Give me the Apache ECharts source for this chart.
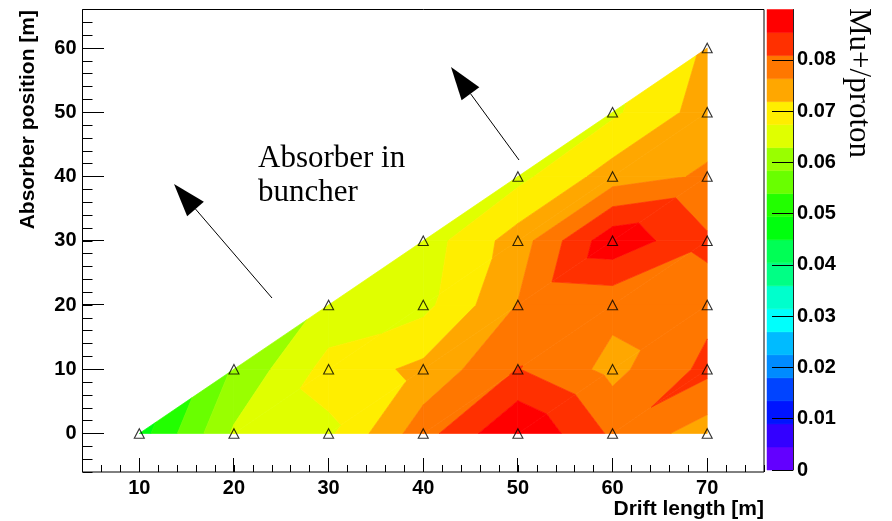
<!DOCTYPE html>
<html><head><meta charset="utf-8">
<script src="https://cdn.jsdelivr.net/npm/echarts@6/dist/echarts.min.js"></script>
<style>html,body{margin:0;padding:0;background:#fff}#c{width:892px;height:521px}</style>
</head><body><div id="c"></div>
<script>
// ---- data ----
const driftLength = [10, 20, 20, 30, 30, 30, 40, 40, 40, 40, 50, 50, 50, 50, 50, 60, 60, 60, 60, 60, 60, 70, 70, 70, 70, 70, 70, 70];
const absorberPos = [0, 0, 10, 0, 10, 20, 0, 10, 20, 30, 0, 10, 20, 30, 40, 0, 10, 20, 30, 40, 50, 0, 10, 20, 30, 40, 50, 60];
const muPerProton = [0.0474,
  0.0635, 0.059,
  0.0665, 0.069, 0.064,
  0.079, 0.073, 0.066, 0.065,
  0.0898, 0.081, 0.0765, 0.074, 0.066,
  0.080, 0.075, 0.0775, 0.0885, 0.074, 0.0665,
  0.074, 0.082, 0.0795, 0.0815, 0.077, 0.074, 0.0725];
const xMajorTicks = [10, 20, 30, 40, 50, 60, 70];
const yMajorTicks = [0, 10, 20, 30, 40, 50, 60];
const zTickLabels = [0, 0.01, 0.02, 0.03, 0.04, 0.05, 0.06, 0.07, 0.08];
const nLevels = 20;

// ---- style ----
const palette = ['#6300ff','#3300ff','#0014ff','#0044ff','#008bff','#00bbff','#00fffc','#00ffcc','#00ff85','#00ff55',
                 '#00ff0e','#22ff00','#69ff00','#99ff00','#e0ff00','#ffee00','#ffa700','#ff7700','#ff3000','#ff0000'];
const sansBold = 'Liberation Sans';
const tickColor = '#000';

// ---- derived ----
const zMax = Math.max(...muPerProton);
const zMin = 0;
const step = (zMax - zMin) / nLevels;
const xMin = 4, xMax = 76, yMin = -6, yMax = 66;

const key = (x, y) => x + ',' + y;
const idx = {};
driftLength.forEach((x, i) => { idx[key(x, absorberPos[i])] = i; });
const xs = [...new Set(driftLength)].sort((a, b) => a - b);
const ys = [...new Set(absorberPos)].sort((a, b) => a - b);
const triangles = [];
function vtx(i) { return [driftLength[i], absorberPos[i], muPerProton[i]]; }
for (let a = 0; a < xs.length - 1; a++) {
  for (let b = 0; b < ys.length - 1; b++) {
    const p00 = idx[key(xs[a], ys[b])], p10 = idx[key(xs[a + 1], ys[b])];
    const p11 = idx[key(xs[a + 1], ys[b + 1])], p01 = idx[key(xs[a], ys[b + 1])];
    if (p00 !== undefined && p10 !== undefined && p11 !== undefined) triangles.push([].concat(vtx(p00), vtx(p10), vtx(p11)));
    if (p00 !== undefined && p11 !== undefined && p01 !== undefined) triangles.push([].concat(vtx(p00), vtx(p11), vtx(p01)));
  }
}
const bands = [];
for (let k = 0; k < nLevels; k++) bands.push([0, zMin + k * step, 1, zMin + (k + 1) * step]);

function clip(poly, level, keepAbove) {
  const out = [];
  for (let i = 0; i < poly.length; i++) {
    const a = poly[i], b = poly[(i + 1) % poly.length];
    const ina = keepAbove ? a.z >= level : a.z <= level;
    const inb = keepAbove ? b.z >= level : b.z <= level;
    if (ina) out.push(a);
    if (ina !== inb) {
      const t = (level - a.z) / (b.z - a.z);
      out.push({ x: a.x + t * (b.x - a.x), y: a.y + t * (b.y - a.y), z: level });
    }
  }
  return out;
}
function renderTri(params, api) {
  const P = [0, 1, 2].map(i => ({ x: api.value(i * 3), y: api.value(i * 3 + 1), z: api.value(i * 3 + 2) }));
  const children = [];
  for (let k = 0; k < nLevels; k++) {
    const lo = k === 0 ? -Infinity : zMin + k * step;
    const hi = k === nLevels - 1 ? Infinity : zMin + (k + 1) * step;
    let poly = clip(P, lo, true);
    if (poly.length >= 3) poly = clip(poly, hi, false);
    if (poly.length >= 3) {
      children.push({
        type: 'polygon',
        shape: { points: poly.map(p => api.coord([p.x, p.y])) },
        style: { fill: palette[k], stroke: palette[k], lineWidth: 0.7 }
      });
    }
  }
  return { type: 'group', children };
}
function renderBand(params, api) {
  const p0 = api.coord([api.value(0), api.value(1)]);
  const p1 = api.coord([api.value(2), api.value(3)]);
  return {
    type: 'rect',
    shape: { x: p0[0], y: p1[1], width: p1[0] - p0[0], height: p0[1] - p1[1] },
    style: { fill: palette[params.dataIndex], stroke: palette[params.dataIndex], lineWidth: 0.5 }
  };
}
function renderXTick(params, api) {
  const p = api.coord([api.value(0), api.value(1)]);
  const x = Math.round(p[0] - 0.5) + 0.5, y = Math.round(p[1]);
  return { type: 'line', shape: { x1: x, y1: y, x2: x, y2: y - 14 }, style: { stroke: tickColor, lineWidth: 1 } };
}
function renderYTick(params, api) {
  const p = api.coord([api.value(0), api.value(1)]);
  const x = Math.round(p[0]), y = Math.round(p[1] - 0.5) + 0.5;
  return { type: 'line', shape: { x1: x, y1: y, x2: x + 21, y2: y }, style: { stroke: tickColor, lineWidth: 1 } };
}
function arrow(tail, tip) {
  const dx = tip[0] - tail[0], dy = tip[1] - tail[1];
  const L = Math.hypot(dx, dy), ux = dx / L, uy = dy / L, nx = -uy, ny = ux;
  const hl = 33, hw = 11;
  const bx = tip[0] - ux * hl, by = tip[1] - uy * hl;
  return [
    { type: 'line', shape: { x1: tail[0], y1: tail[1], x2: bx, y2: by }, style: { stroke: '#000', lineWidth: 1 } },
    { type: 'polygon', shape: { points: [tip, [bx + nx * hw, by + ny * hw], [bx - nx * hw, by - ny * hw]] }, style: { fill: '#000' } }
  ];
}

const chart = echarts.init(document.getElementById('c'), null, { renderer: 'canvas' });
const labelStyle = { color: '#000', fontSize: 20, fontWeight: 'bold', fontFamily: sansBold };
const noLine = { show: false, onZero: false };
chart.setOption({
  animation: false,
  backgroundColor: '#fff',
  grid: [
    { left: 82.5, top: 9.5, width: 681.5, height: 462.5, show: true, borderColor: '#000', borderWidth: 1, backgroundColor: 'transparent' },
    { left: 767, top: 9.5, width: 26, height: 460.5, show: false }
  ],
  xAxis: [
    { gridIndex: 0, type: 'value', min: xMin, max: xMax, position: 'bottom', z: 5,
      axisLine: noLine, splitLine: { show: false }, axisTick: { show: false },
      axisLabel: Object.assign({ customValues: xMajorTicks, margin: 6 }, labelStyle) },
    { gridIndex: 0, type: 'value', min: xMin, max: xMax, interval: 2, position: 'bottom', z: 5,
      axisLine: noLine, splitLine: { show: false }, axisLabel: { show: false },
      axisTick: { show: true, inside: true, length: 7, lineStyle: { color: '#000', width: 1 } } },
    { gridIndex: 1, type: 'value', min: 0, max: 1, show: false, axisLine: noLine }
  ],
  yAxis: [
    { gridIndex: 0, type: 'value', min: yMin, max: yMax, position: 'left', z: 5,
      axisLine: noLine, splitLine: { show: false }, axisTick: { show: false },
      axisLabel: Object.assign({ customValues: yMajorTicks, margin: 6 }, labelStyle) },
    { gridIndex: 0, type: 'value', min: yMin, max: yMax, interval: 2, position: 'left', z: 5,
      axisLine: noLine, splitLine: { show: false }, axisLabel: { show: false },
      axisTick: { show: true, inside: true, length: 10, lineStyle: { color: '#000', width: 1 } } },
    { gridIndex: 1, type: 'value', min: zMin, max: zMax, position: 'right', z: 5,
      axisLine: { show: true, onZero: false, lineStyle: { color: '#222', width: 1 } }, splitLine: { show: false },
      axisTick: { show: true, inside: true, length: 21, customValues: zTickLabels, lineStyle: { color: '#000', width: 1 } },
      axisLabel: Object.assign({ customValues: zTickLabels, margin: 4, formatter: v => (Math.abs(v) < 1e-9 ? '0' : v.toFixed(2)) }, labelStyle) }
  ],
  series: [
    { type: 'custom', xAxisIndex: 0, yAxisIndex: 0, renderItem: renderTri, data: triangles,
      encode: { x: [0, 3, 6], y: [1, 4, 7] }, silent: true, z: 1 },
    { type: 'scatter', xAxisIndex: 0, yAxisIndex: 0, data: driftLength.map((x, i) => [x, absorberPos[i]]),
      symbol: 'triangle', symbolSize: [10, 9.5], silent: true, z: 3,
      itemStyle: { color: 'rgba(0,0,0,0)', borderColor: '#000', borderWidth: 1.1 } },
    { type: 'custom', xAxisIndex: 2, yAxisIndex: 2, renderItem: renderBand, data: bands,
      encode: { x: [0, 2], y: [1, 3] }, silent: true, z: 1 },
    { type: 'custom', xAxisIndex: 0, yAxisIndex: 0, renderItem: renderXTick, clip: false,
      data: xMajorTicks.map(v => [v, yMin]), encode: { x: 0, y: 1 }, silent: true, z: 6 },
    { type: 'custom', xAxisIndex: 0, yAxisIndex: 0, renderItem: renderYTick, clip: false,
      data: yMajorTicks.map(v => [xMin, v]), encode: { x: 0, y: 1 }, silent: true, z: 6 }
  ],
  graphic: [
    { type: 'text', x: 28, y: 10, rotation: Math.PI / 2,
      style: { text: 'Absorber position [m]', align: 'right', verticalAlign: 'middle', font: 'bold 21px "Liberation Sans"', fill: '#000' } },
    { type: 'text', x: 764, y: 509,
      style: { text: 'Drift length [m]', align: 'right', verticalAlign: 'middle', font: 'bold 21px "Liberation Sans"', fill: '#000' } },
    { type: 'text', x: 858, y: 8, rotation: -Math.PI / 2,
      style: { text: 'Mu+/proton', align: 'left', verticalAlign: 'middle', font: '31px "Liberation Serif"', fill: '#000' } },
    { type: 'text', x: 258, y: 159,
      style: { text: 'Absorber in', align: 'left', verticalAlign: 'middle', font: '31px "Liberation Serif"', fill: '#000' } },
    { type: 'text', x: 258, y: 193,
      style: { text: 'buncher', align: 'left', verticalAlign: 'middle', font: '31px "Liberation Serif"', fill: '#000' } }
  ].concat(arrow([272, 298], [174, 184]), arrow([519, 160], [451, 67]))
});
</script></body></html>
